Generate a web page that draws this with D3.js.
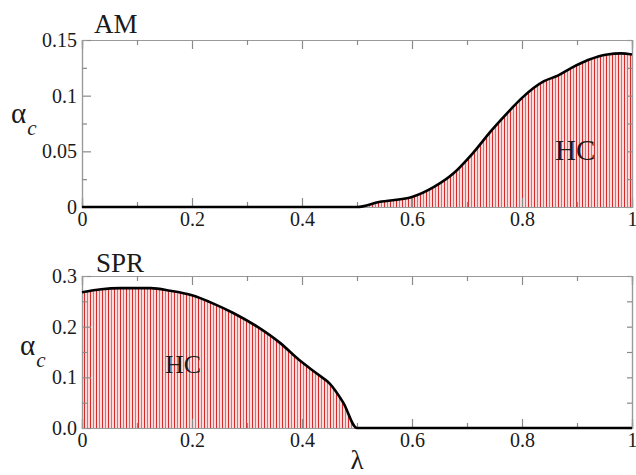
<!DOCTYPE html>
<html><head><meta charset="utf-8">
<script src="https://cdn.jsdelivr.net/npm/d3@7"></script>
<style>
html,body{margin:0;padding:0;background:#fff;}
svg{display:block;}
</style></head>
<body>
<svg id="c" width="636" height="475"></svg>
<script>
// ---- data ----
const lambdaAM = [0, 0.5, 0.54, 0.6, 0.64, 0.675, 0.71, 0.745, 0.78, 0.80, 0.84, 0.865, 0.89, 0.92, 0.955, 0.98, 1.0];
const alphaAM  = [0, 0, 0.0045, 0.009, 0.018, 0.030, 0.048, 0.069, 0.088, 0.098, 0.113, 0.118, 0.125, 0.132, 0.137, 0.138, 0.137];
const lambdaSPR = [0, 0.035, 0.07, 0.125, 0.16, 0.2, 0.24, 0.275, 0.32, 0.36, 0.395, 0.43, 0.45, 0.475, 0.5, 1.0];
const alphaSPR  = [0.268, 0.274, 0.276, 0.276, 0.271, 0.262, 0.245, 0.227, 0.199, 0.168, 0.134, 0.105, 0.088, 0.05, 0, 0];
const xTicks = [0, 0.2, 0.4, 0.6, 0.8, 1];
const xTickLabels = ["0", "0.2", "0.4", "0.6", "0.8", "1"];
const xMinor = [0.1, 0.3, 0.5, 0.7, 0.9];
const yTicksAM = [0, 0.05, 0.1, 0.15];
const yTickLabelsAM = ["0", "0.05", "0.1", "0.15"];
const yMinorAM = [0.025, 0.075, 0.125];
const yTicksSPR = [0, 0.1, 0.2, 0.3];
const yTickLabelsSPR = ["0.0", "0.1", "0.2", "0.3"];
const yMinorSPR = [0.05, 0.15, 0.25];
const panelTitles = ["AM", "SPR"];
const regionLabel = "HC";

const SERIF = "'Liberation Serif', 'Times New Roman', serif";
const svg = d3.select("#c");
const defs = svg.append("defs");
const pat = defs.append("pattern").attr("id","stripes").attr("patternUnits","userSpaceOnUse")
  .attr("width",6).attr("height",10);
pat.append("rect").attr("width",6).attr("height",10).attr("fill","#fadcdc");
pat.append("line").attr("x1",0.5).attr("x2",0.5).attr("y1",0).attr("y2",10).attr("stroke","#d62a2a").attr("stroke-width",1);
pat.append("line").attr("x1",3.5).attr("x2",3.5).attr("y1",0).attr("y2",10).attr("stroke","#e66a6a").attr("stroke-width",1);

const x = d3.scaleLinear().domain([0,1]).range([82,632]);

function panel(cfg){
  const y = d3.scaleLinear().domain(cfg.ydom).range(cfg.yrange);
  const g = svg.append("g");
  const pts = cfg.lx.map((v,i)=>[v,cfg.ly[i]]);
  const area = d3.area().x(d=>x(d[0])).y0(y(0)).y1(d=>y(d[1])).curve(d3.curveMonotoneX);
  const line = d3.line().x(d=>x(d[0])).y(d=>y(d[1])).curve(d3.curveMonotoneX);
  g.append("path").datum(pts).attr("d",area).attr("fill","url(#stripes)");

  const h = cfg.yrange[0], t = cfg.yrange[1];
  function style(a){
    a.attr("font-family", null).attr("font-size", null);
    a.select(".domain").attr("stroke","#9a9a9a").attr("stroke-width",1.2);
    a.selectAll(".tick line").attr("stroke","#8a8a8a").attr("stroke-width",1.2);
    a.selectAll(".tick text").style("font-size","20px").style("fill","#1a1a1a").style("font-family",SERIF);
  }
  g.append("g").attr("transform",`translate(0,${h})`)
    .call(d3.axisBottom(x).tickValues(xTicks).tickSize(-9).tickPadding(5).tickFormat((d,i)=>xTickLabels[i]))
    .call(style);
  g.append("g").attr("transform",`translate(0,${h})`)
    .call(d3.axisBottom(x).tickValues(xMinor).tickSize(-5).tickFormat(""))
    .call(style);
  g.append("g").attr("transform",`translate(0,${t})`)
    .call(d3.axisTop(x).tickValues(xTicks).tickSize(-9).tickFormat("")).call(style);
  g.append("g").attr("transform",`translate(0,${t})`)
    .call(d3.axisTop(x).tickValues(xMinor).tickSize(-5).tickFormat("")).call(style);
  g.append("g").attr("transform",`translate(${x(0)},0)`)
    .call(d3.axisLeft(y).tickValues(cfg.yt).tickSize(-9).tickPadding(5).tickFormat((d,i)=>cfg.ytl[i]))
    .call(style);
  g.append("g").attr("transform",`translate(${x(0)},0)`)
    .call(d3.axisLeft(y).tickValues(cfg.ym).tickSize(-5).tickFormat("")).call(style);
  g.append("g").attr("transform",`translate(${x(1)},0)`)
    .call(d3.axisRight(y).tickValues(cfg.yt).tickSize(-5).tickFormat("")).call(style);
  g.append("g").attr("transform",`translate(${x(1)},0)`)
    .call(d3.axisRight(y).tickValues(cfg.ym).tickSize(-5).tickFormat("")).call(style);

  g.append("path").datum(pts).attr("d",line).attr("fill","none").attr("stroke","#000").attr("stroke-width",2.6);

  g.append("text").attr("x",cfg.titleX).attr("y",cfg.titleY).style("font-family",SERIF).style("font-size","27px").style("fill","#1a1a1a").text(cfg.title);
  g.append("text").attr("x",cfg.hcX).attr("y",cfg.hcY).style("font-family",SERIF).style("font-size",cfg.hcSize+"px").style("fill","#1a1a1a").text(regionLabel);
  const lab = g.append("text").attr("x",cfg.ax).attr("y",cfg.ay).style("font-family",SERIF).style("font-size","29px").style("fill","#1a1a1a");
  lab.append("tspan").text("α");
  lab.append("tspan").style("font-size","21px").style("font-style","italic").attr("dy",12).attr("dx",1).text("c");
}

panel({ydom:[0,0.15], yrange:[207,40], lx:lambdaAM, ly:alphaAM, yt:yTicksAM, ytl:yTickLabelsAM, ym:yMinorAM,
  title:panelTitles[0], titleX:94, titleY:33, hcX:555, hcY:160, hcSize:29, ax:11, ay:123});
panel({ydom:[0,0.3], yrange:[428,276], lx:lambdaSPR, ly:alphaSPR, yt:yTicksSPR, ytl:yTickLabelsSPR, ym:yMinorSPR,
  title:panelTitles[1], titleX:96, titleY:272, hcX:165, hcY:373, hcSize:26, ax:20, ay:355});

svg.append("text").attr("x",357).attr("y",469).attr("text-anchor","middle")
  .style("font-family",SERIF).style("font-size","27px").style("fill","#1a1a1a").text("λ");
</script>
</body></html>
